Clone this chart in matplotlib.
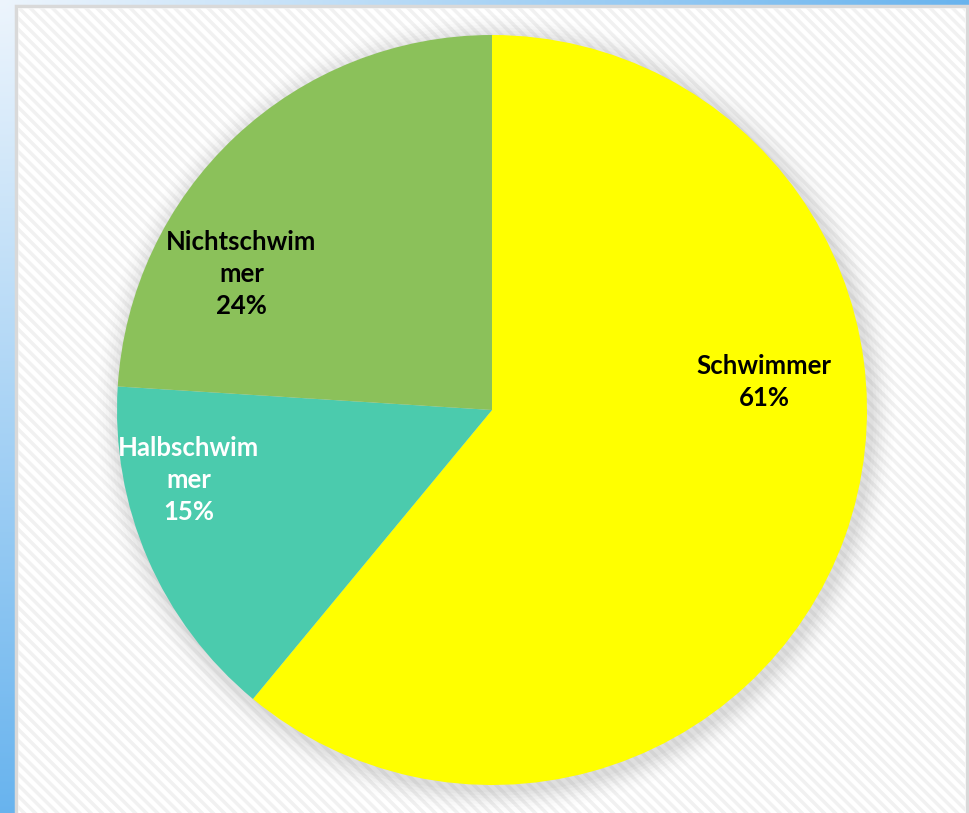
import matplotlib.pyplot as plt
import matplotlib.patches as mpatches
import numpy as np

labels = ["Schwimmer", "Halbschwim\nmer", "Nichtschwim\nmer"]
shares = [61, 15, 24]
colors = ["#FFFF00", "#4BCBAD", "#8BC15A"]
text_colors = ["black", "white", "black"]
# label placement (radius fraction, angle in degrees)
label_pos = [(0.73, 5.8), (0.83, 193.0), (0.76, 151.5)]

W, H = 969, 813
fig = plt.figure(figsize=(W / 100, H / 100), dpi=100)

# blue gradient background
bg = fig.add_axes([0, 0, 1, 1])
yy, xx = np.mgrid[0:H, 0:W]
t = np.clip(np.sqrt((xx / W) ** 2 + (yy / H) ** 2) * 0.95, 0, 1)
light = np.array([0.93, 0.96, 0.99])
blue = np.array([0.38, 0.69, 0.93])
img = light[None, None, :] * (1 - t[..., None]) + blue[None, None, :] * t[..., None]
bg.imshow(img, extent=[0, W, H, 0], aspect="auto")
bg.set_xlim(0, W)
bg.set_ylim(H, 0)
bg.axis("off")

# white chart area with light diagonal hatch
plt.rcParams["hatch.linewidth"] = 2.5
bg.add_patch(mpatches.Rectangle((16, 6), 951, 820, facecolor="white",
                                edgecolor="#D9D9D9", linewidth=2.5, zorder=2))
bg.add_patch(mpatches.Rectangle((18, 8), 947, 820, facecolor="none",
                                edgecolor="#F1F1F1", linewidth=0, hatch="\\\\\\", zorder=3))

# pie axes
left, right, top, bottom = 117, 867, 35, 785
ax = fig.add_axes([left / W, (H - bottom) / H, (right - left) / W, (bottom - top) / H])
ax.set_facecolor("none")

# soft shadow
for i, a in enumerate(np.linspace(0.05, 0.012, 8)):
    ax.add_patch(mpatches.Circle((0.01, -0.012), 1.0 + 0.008 * (i + 1),
                                 facecolor="#808080", edgecolor="none", alpha=a,
                                 zorder=0, clip_on=False))

wedges, _ = ax.pie(shares, colors=colors, startangle=90, counterclock=False,
                   radius=1.0, wedgeprops=dict(linewidth=0, zorder=2))

for lab, val, tc, (r, ang) in zip(labels, shares, text_colors, label_pos):
    x = r * np.cos(np.radians(ang))
    y = r * np.sin(np.radians(ang))
    ax.text(x, y, f"{lab}\n{val}%", ha="center", va="center", color=tc,
            fontsize=18.5, fontweight="bold", family="Lato", linespacing=1.4, zorder=5)

ax.set_xlim(-1, 1)
ax.set_ylim(-1, 1)
ax.set_aspect("equal")
ax.axis("off")

fig.savefig("out.png", dpi=100)
